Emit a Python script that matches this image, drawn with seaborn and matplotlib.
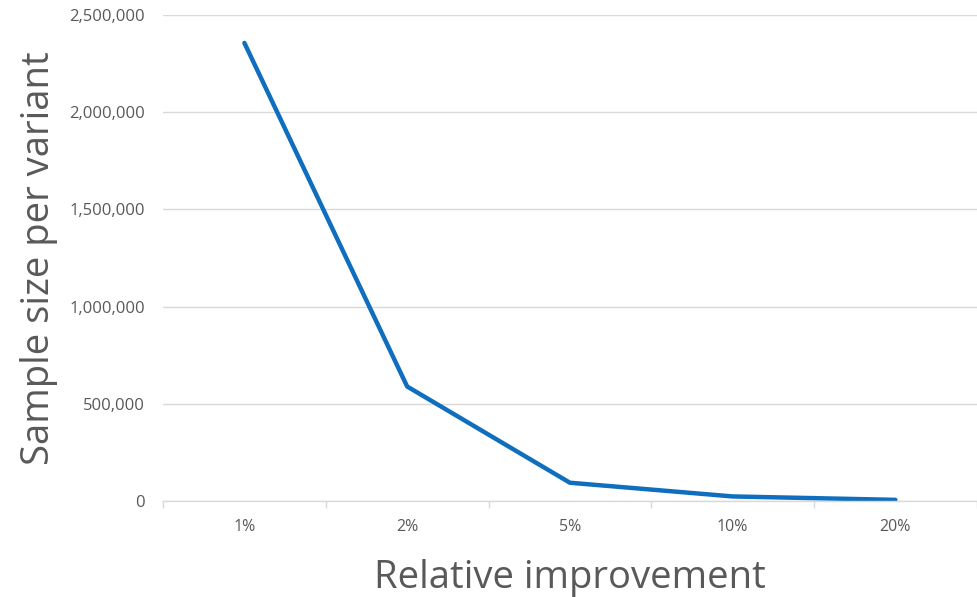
import numpy as np
import pandas as pd
import seaborn as sns
import matplotlib.pyplot as plt
from matplotlib.ticker import FuncFormatter, FixedLocator

sns.set_theme(style="white")
plt.rcParams['font.family'] = ['Open Sans', 'DejaVu Sans']

improvement = ["1%", "2%", "5%", "10%", "20%"]
sample_size = [2356000, 589000, 94000, 23500, 5900]

df = pd.DataFrame({"improvement": improvement, "sample_size": sample_size})

fig = plt.figure(figsize=(9.78, 5.97), dpi=100)
ax = fig.add_axes([0.1667, 0.1608, 0.832, 0.8142])

sns.lineplot(data=df, x="improvement", y="sample_size", ax=ax,
             color="#0F6EBE", linewidth=3.2, sort=False)

ax.set_ylim(0, 2500000)
ax.set_xlim(-0.5, 4.5)
ax.set_yticks(np.arange(0, 2500001, 500000))
ax.yaxis.set_major_formatter(FuncFormatter(lambda v, p: f"{int(v):,}"))
ax.grid(axis="y", color="#d9d9d9", linewidth=1)
ax.set_axisbelow(True)

for s in ["left", "right", "top"]:
    ax.spines[s].set_visible(False)
ax.spines["bottom"].set_color("#d9d9d9")
ax.spines["bottom"].set_linewidth(1)

ax.xaxis.set_minor_locator(FixedLocator(np.arange(-0.5, 4.6, 1)))
ax.tick_params(axis="x", which="major", length=0, pad=13, labelsize=11.5, labelcolor="#595959")
ax.tick_params(axis="x", which="minor", length=5, color="#d9d9d9", direction="out", bottom=True)
ax.tick_params(axis="y", length=0, pad=13, labelsize=12, labelcolor="#595959")

ax.set_xlabel("Relative improvement", fontsize=27.5, color="#595959", labelpad=17)
ax.set_ylabel("Sample size per variant", fontsize=27.5, color="#595959", labelpad=8)

fig.savefig("out.png", dpi=100)
